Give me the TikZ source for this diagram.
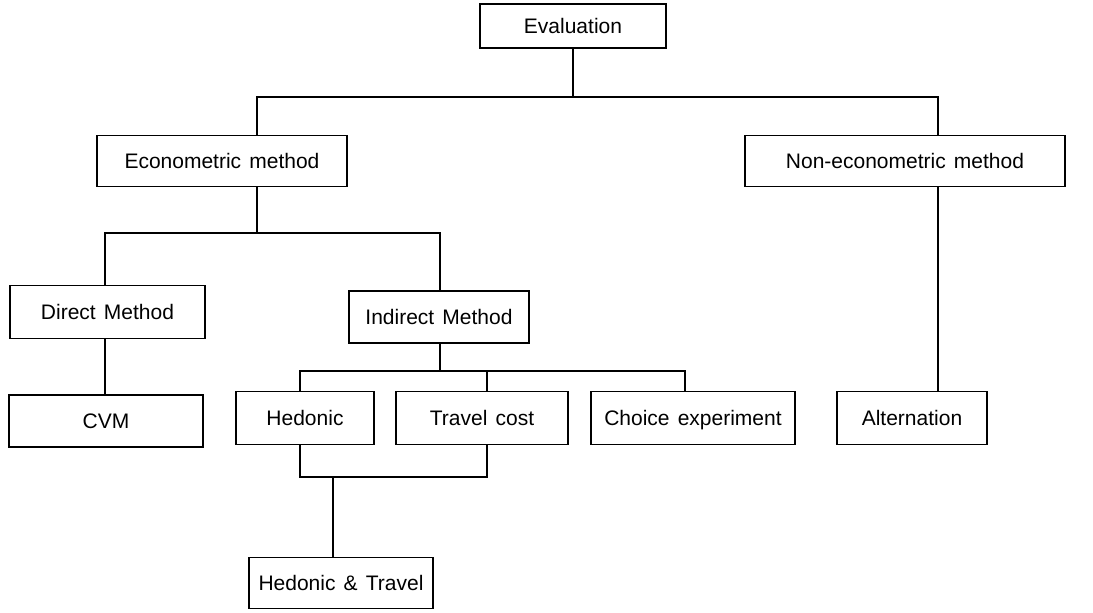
\documentclass[tikz,border=0pt]{standalone}
\usepackage{fontspec}
\setmainfont[WordSpace=1.4]{Liberation Sans}
\usepackage{tikz}

\tikzset{
  box/.style={draw,line width=0.7pt,inner sep=0pt,align=center,text height=7.6pt,text depth=0pt,font=\fontsize{10.5}{12}\selectfont},
  link/.style={line width=0.7pt}
}

\begin{document}
\begin{tikzpicture}[x=0.5pt,y=-0.5pt]
            \useasboundingbox (0,0) rectangle (1093,613);
            \node[box,minimum width=93pt,minimum height=22pt] (eval) at (573,26) {Evaluation};
            \node[box,minimum width=125pt,minimum height=25.5pt] (econ) at (222,161) {Econometric method};
            \node[box,minimum width=160pt,minimum height=25.5pt] (nonecon) at (905,161) {Non-econometric method};
            \node[box,minimum width=97.5pt,minimum height=26.5pt] (direct) at (107.5,312) {Direct Method};
            \node[box,minimum width=90pt,minimum height=26pt] (indirect) at (439,317) {Indirect Method};
            \node[box,minimum width=97pt,minimum height=26pt] (cvm) at (106,421) {CVM};
            \node[box,minimum width=69pt,minimum height=26.5pt] (hedonic) at (305,418) {Hedonic};
            \node[box,minimum width=86pt,minimum height=26.5pt] (travel) at (482,418) {Travel cost};
            \node[box,minimum width=102pt,minimum height=26.5pt] (choice) at (693,418) {Choice experiment};
            \node[box,minimum width=75pt,minimum height=26.5pt] (altern) at (912,418) {Alternation};
            \node[box,minimum width=92pt,minimum height=25.5pt] (ht) at (341,583) {Hedonic \& Travel};
            \coordinate (e1) at (257,97);
            \coordinate (n1) at (938,97);
            \coordinate (e2) at (257,233);
            \coordinate (d2) at (105,233);
            \coordinate (i2) at (440,233);
            \coordinate (i3) at (440,371);
            \coordinate (h3) at (300,371);
            \coordinate (t3) at (487,371);
            \coordinate (c3) at (685,371);
            \coordinate (h4) at (300,477);
            \coordinate (t4) at (487,477);
            \coordinate (m4) at (333,477);
            \draw[link] (eval.south) -- (eval.south |- e1);
            \draw[link] (econ.north -| e1) -- (e1) -- (n1) -- (nonecon.north -| n1);
            \draw[link] (econ.south -| e2) -- (e2);
            \draw[link] (direct.north -| d2) -- (d2) -- (i2) -- (indirect.north -| i2);
            \draw[link] (direct.south -| d2) -- (cvm.north -| d2);
            \draw[link] (indirect.south -| i3) -- (i3);
            \draw[link] (hedonic.north -| h3) -- (h3) -- (c3) -- (choice.north -| c3);
            \draw[link] (t3) -- (travel.north -| t3);
            \draw[link] (nonecon.south -| n1) -- (altern.north -| n1);
            \draw[link] (hedonic.south -| h4) -- (h4) -- (t4) -- (travel.south -| t4);
            \draw[link] (m4) -- (ht.north -| m4);
          \end{tikzpicture}
\end{document}
